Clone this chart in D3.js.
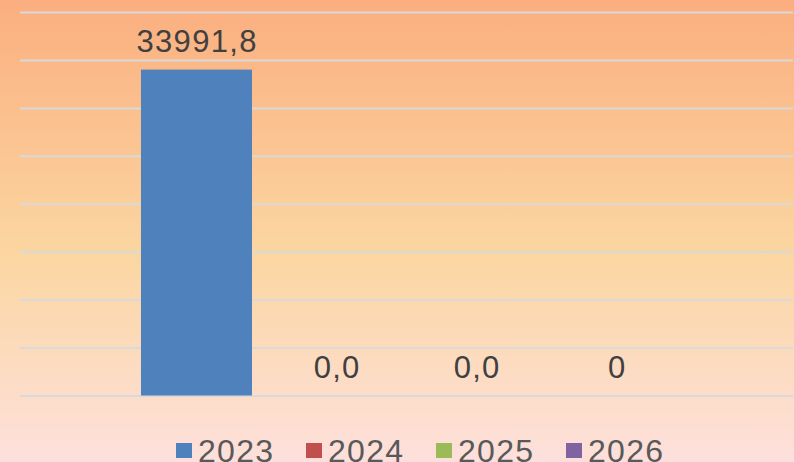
<!DOCTYPE html>
<html lang="en">
<head>
    <meta charset="UTF-8">
    <title>Chart</title>
    <style>
        body { margin: 0; }
        svg { display: block; }
        .grid line { stroke: #d9d9d9; stroke-width: 2px; }
        .grid .domain { display: none; }
        .label { font-family: "Liberation Sans", Arial, sans-serif; font-size: 31px; fill: #404040; letter-spacing: 1.3px; }
        .legend text { font-family: "Liberation Sans", Arial, sans-serif; font-size: 32px; fill: #595959; letter-spacing: 1.3px; }
    </style>
</head>
<body>
    <svg width="794" height="462"></svg>
    <script src="https://d3js.org/d3.v7.min.js"></script>
    <script>

    // data
    var series = ["2023", "2024", "2025", "2026"];
    var values = [33991.8, 0, 0, 0];
    var valueLabels = ["33991,8", "0,0", "0,0", "0"];
    var colors = ["#4f81bd", "#c0504d", "#9bbb59", "#8064a2"];
    var yTicks = [0, 5000, 10000, 15000, 20000, 25000, 30000, 35000, 40000];

    var svg = d3.select("svg"),
        margin = {top: 12, right: 1, bottom: 66.5, left: 20},
        width = +svg.attr("width") - margin.left - margin.right,
        height = +svg.attr("height") - margin.top - margin.bottom;

    // background gradient
    var grad = svg.append("defs").append("linearGradient")
        .attr("id", "bg")
        .attr("x1", 0).attr("y1", 0)
        .attr("x2", 0).attr("y2", 1);
    grad.append("stop").attr("offset", "0%").attr("stop-color", "#fbae7f");
    grad.append("stop").attr("offset", "55%").attr("stop-color", "#fbd6a1");
    grad.append("stop").attr("offset", "100%").attr("stop-color", "#fde0dc");

    svg.append("rect")
        .attr("width", 794)
        .attr("height", 462)
        .attr("fill", "url(#bg)");

    var x = d3.scaleBand()
        .domain(series)
        .range([0, width])
        .paddingInner(0.2071)
        .paddingOuter(0.864);

    var y = d3.scaleLinear()
        .domain([0, 40000])
        .range([height, 0]);

    var g = svg.append("g")
        .attr("transform", "translate(" + margin.left + "," + margin.top + ")");

    g.append("g")
        .attr("class", "grid")
        .call(d3.axisLeft(y).tickValues(yTicks).tickSize(-width).tickFormat(""))
        .call(function (s) { s.selectAll(".tick line").attr("x1", 0).attr("x2", width); });

    g.selectAll(".bar")
        .data(values)
        .enter().append("rect")
        .attr("class", "bar")
        .attr("x", function (d, i) { return x(series[i]); })
        .attr("y", function (d) { return y(d); })
        .attr("width", x.bandwidth())
        .attr("height", function (d) { return height - y(d); })
        .attr("fill", function (d, i) { return colors[i]; });

    // letter-spacing leaves a trailing gap, so nudge right by half of it
    g.selectAll(".label")
        .data(values)
        .enter().append("text")
        .attr("class", "label")
        .attr("text-anchor", "middle")
        .attr("x", function (d, i) { return x(series[i]) + x.bandwidth() / 2 + 0.65; })
        .attr("y", function (d) { return y(d) - 18; })
        .text(function (d, i) { return valueLabels[i]; });

    // legend
    var lx = d3.scaleBand().domain(series).range([176, 176 + 130 * 4]);

    var legend = svg.append("g")
        .attr("class", "legend")
        .selectAll("g")
        .data(series)
        .enter().append("g")
        .attr("transform", function (d) { return "translate(" + lx(d) + ",0)"; });

    legend.append("rect")
        .attr("y", 443)
        .attr("width", 16)
        .attr("height", 15)
        .attr("fill", function (d, i) { return colors[i]; });

    legend.append("text")
        .attr("x", 22)
        .attr("y", 462)
        .text(function (d) { return d; });

    </script>
</body>
</html>
